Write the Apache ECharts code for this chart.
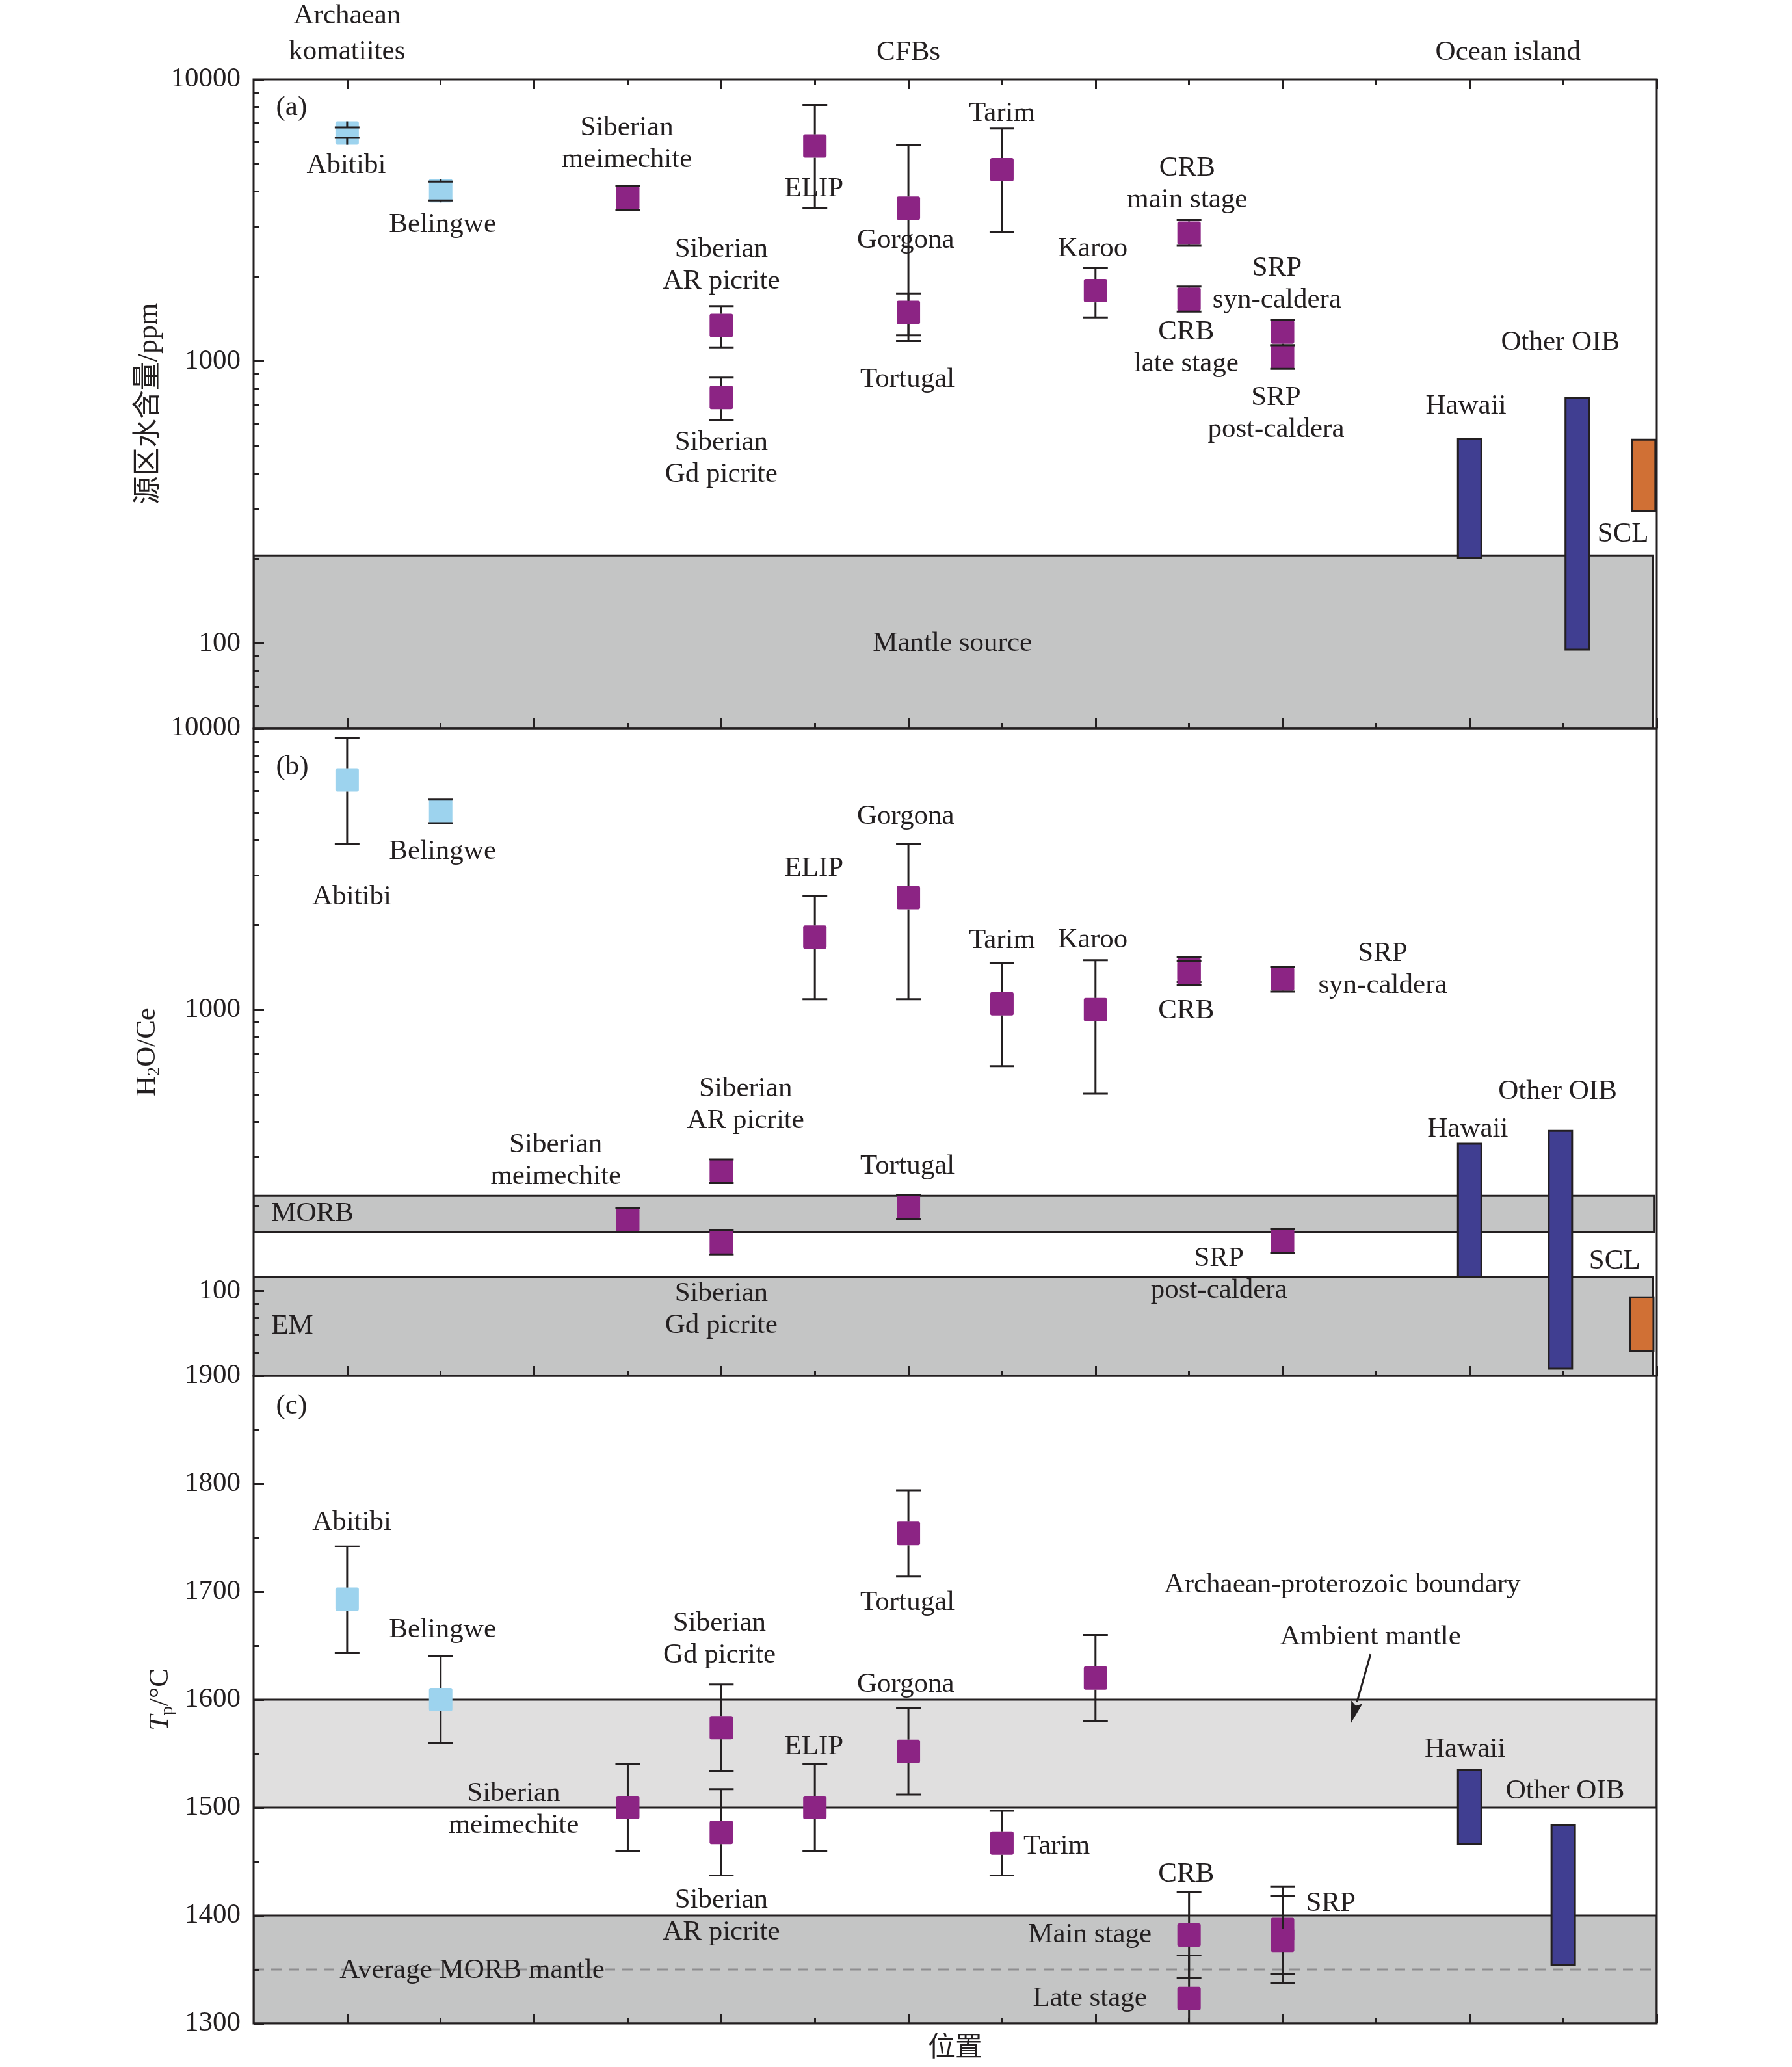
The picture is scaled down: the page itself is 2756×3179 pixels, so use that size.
<!DOCTYPE html>
<html>
<head>
<meta charset="utf-8">
<script src="https://cdn.jsdelivr.net/npm/echarts@6/dist/echarts.min.js"></script>
<style>
html,body{margin:0;padding:0;background:#ffffff;}
#chart{width:2756px;height:3179px;}
</style>
</head>
<body>
<div id="chart"></div>
<script>
// ================= DATA =================
// x positions (categories along the "位置" axis)
const xMajorTicks = [1, 3, 5, 7, 9, 11, 13, 15];
const xMinorTicks = [2, 4, 6, 8, 10, 12, 14];

// y tick values
const logMajorTicks = [100, 1000, 10000];
const logMinorTicks = [60, 70, 80, 90, 200, 300, 400, 500, 600, 700, 800, 900,
                       2000, 3000, 4000, 5000, 6000, 7000, 8000, 9000];
const tpMajorTicks = [1300, 1400, 1500, 1600, 1700, 1800, 1900];
const tpMinorTicks = [1350, 1450, 1550, 1650, 1750, 1850];

// ---- Panel (a): source water content (ppm) ----
const waterNames = ['Abitibi', 'Belingwe', 'Siberian meimechite', 'Siberian AR picrite', 'Siberian Gd picrite',
  'ELIP', 'Gorgona', 'Tortugal', 'Tarim', 'Karoo', 'CRB main stage', 'CRB late stage', 'SRP syn-caldera', 'SRP post-caldera'];
const waterX     = [1, 2, 4, 5, 5, 6, 7, 7, 8, 9, 10, 10, 11, 11];
const waterMean  = [6450, 4030, 3800, 1340, 745, 5800, 3490, 1490, 4780, 1780, 2850, 1660, 1270, 1035];
const waterLow   = [6200, 3720, 3450, 1120, 620, 3490, 1180, 1236, 2880, 1430, 2570, 1500, 1140, 940];
const waterHigh  = [6750, 4340, 4200, 1570, 875, 8110, 5840, 1741, 6690, 2140, 3170, 1840, 1400, 1140];
const waterGroup = ['A', 'A', 'C', 'C', 'C', 'C', 'C', 'C', 'C', 'C', 'C', 'C', 'C', 'C'];

const rangeNames     = ['Hawaii', 'Other OIB', 'SCL'];
const rangeGroup     = ['O', 'O', 'S'];
const waterRangeX    = [13, 14.15, 14.86];
const waterRangeLow  = [201, 95, 295];
const waterRangeHigh = [532, 741, 527];

// ---- Panel (b): H2O/Ce ----
const ratioNames = ['Abitibi', 'Belingwe', 'Siberian meimechite', 'Siberian AR picrite', 'Siberian Gd picrite',
  'ELIP', 'Gorgona', 'Tortugal', 'Tarim', 'Karoo', 'CRB', 'CRB', 'SRP syn-caldera', 'SRP post-caldera'];
const ratioX     = [1, 2, 4, 5, 5, 6, 7, 7, 8, 9, 10, 10, 11, 11];
const ratioMean  = [6550, 5070, 179, 267, 149, 1810, 2500, 199, 1050, 1000, 1390, 1346, 1285, 151];
const ratioLow   = [3890, 4600, 162, 242, 135, 1090, 1090, 180, 630, 503, 1253, 1220, 1160, 137];
const ratioHigh  = [9220, 5580, 197, 294, 165, 2530, 3880, 220, 1465, 1500, 1536, 1485, 1420, 166];
const ratioGroup = ['A', 'A', 'C', 'C', 'C', 'C', 'C', 'C', 'C', 'C', 'C', 'C', 'C', 'C'];

const ratioRangeX    = [13, 13.97, 14.84];
const ratioRangeLow  = [112, 53, 61];
const ratioRangeHigh = [334, 371, 95];

// ---- Panel (c): Tp (°C) ----
const tempNames = ['Abitibi', 'Belingwe', 'Siberian meimechite', 'Siberian Gd picrite', 'Siberian AR picrite',
  'ELIP', 'Tortugal', 'Gorgona', 'Tarim', 'Karoo', 'CRB main stage', 'CRB late stage', 'SRP', 'SRP'];
const tempX     = [1, 2, 4, 5, 5, 6, 7, 7, 8, 9, 10, 10, 11, 11];
const tempMean  = [1693, 1600, 1500, 1574, 1477, 1500, 1754, 1552, 1467, 1620, 1382, 1323, 1387, 1377];
const tempLow   = [1643, 1560, 1460, 1534, 1437, 1460, 1714, 1512, 1437, 1580, 1342, 1283, 1346, 1337];
const tempHigh  = [1742, 1640, 1540, 1614, 1517, 1540, 1794, 1592, 1497, 1660, 1422, 1363, 1427, 1418];
const tempGroup = ['A', 'A', 'C', 'C', 'C', 'C', 'C', 'C', 'C', 'C', 'C', 'C', 'C', 'C'];

const tempRangeNames = ['Hawaii', 'Other OIB'];
const tempRangeGroup = ['O', 'O'];
const tempRangeX    = [13, 14];
const tempRangeLow  = [1466, 1354];
const tempRangeHigh = [1535, 1484];

// ---- reference bands [xStart, xEnd, low, high] ----
const mantleSourceBand = [0, 14.96, 50, 205];
const morbRatioBand    = [0, 14.97, 162, 218];
const emRatioBand      = [0, 14.96, 50, 112];
const ambientMantleBand = [0, 15, 1500, 1600];
const morbMantleBand    = [0, 15, 1300, 1400];
const avgMorbMantleTp   = 1350;

// ---- annotations: [text, x, y, align] ----
const labelsA = [
  ['(a)', 0.24, 7917, 'left'], ['Abitibi', 0.99, 4938], ['Belingwe', 2.02, 3048],
  ['Siberian\nmeimechite', 3.99, 5916], ['Siberian\nAR picrite', 5.0, 2183], ['Siberian\nGd picrite', 5.0, 452],
  ['ELIP', 5.99, 4079], ['Gorgona', 6.97, 2683], ['Tortugal', 6.99, 862], ['Tarim', 8.0, 7550],
  ['Karoo', 8.97, 2503], ['CRB\nmain stage', 9.98, 4256], ['CRB\nlate stage', 9.97, 1118],
  ['SRP\nsyn-caldera', 10.94, 1875], ['SRP\npost-caldera', 10.93, 651], ['Hawaii', 12.96, 693],
  ['Other OIB', 13.97, 1167], ['SCL', 14.64, 244], ['Mantle source', 7.47, 100]
];
const labelsB = [
  ['(b)', 0.24, 7277, 'left'], ['Abitibi', 1.05, 2509], ['Belingwe', 2.02, 3640], ['ELIP', 5.99, 3179],
  ['Gorgona', 6.97, 4860], ['Tarim', 8.0, 1758], ['Karoo', 8.97, 1772], ['CRB', 9.97, 990],
  ['SRP\nsyn-caldera', 12.07, 1386], ['Siberian\nmeimechite', 3.23, 290], ['Siberian\nAR picrite', 5.26, 458],
  ['Tortugal', 6.99, 278], ['MORB', 0.19, 188.5, 'left'], ['Siberian\nGd picrite', 5.0, 85.8],
  ['SRP\npost-caldera', 10.32, 114.5], ['Other OIB', 13.94, 513], ['Hawaii', 12.98, 377],
  ['SCL', 14.55, 128], ['EM', 0.19, 75, 'left']
];
const labelsC = [
  ['(c)', 0.24, 1872, 'left'], ['Abitibi', 1.05, 1764], ['Belingwe', 2.02, 1664.5],
  ['Siberian\nGd picrite', 4.98, 1656], ['Tortugal', 6.99, 1690], ['Gorgona', 6.97, 1614], ['ELIP', 5.99, 1556],
  ['Siberian\nmeimechite', 2.78, 1498], ['Siberian\nAR picrite', 5.0, 1399], ['Tarim', 8.23, 1464, 'left'],
  ['CRB', 9.97, 1438], ['Main stage', 8.94, 1382], ['Late stage', 8.94, 1323], ['SRP', 11.25, 1411, 'left'],
  ['Hawaii', 12.95, 1554], ['Other OIB', 14.02, 1515],
  ['Archaean-proterozoic boundary', 11.64, 1706], ['Ambient mantle', 11.94, 1658],
  ['Average MORB mantle', 0.92, 1349, 'left']
];
const ambientArrow = [11.94, 1642, 11.73, 1578];
const topLabels = [['Archaean\nkomatiites', 1, 52, 55], ['CFBs', 7, 81, 49], ['Ocean island', 13.41, 81, 49]];

// ================= STYLE / LAYOUT =================
const FONT = "'Liberation Serif','Times New Roman','Noto Sans CJK SC',serif";
const INK = '#231f20';
const FS = 43;
const LH = 49;
const SYM = 36;
const COLORS = { A: '#9dd3ee', C: '#8c2484', O: '#403e91', S: '#d07035' };
const BAND_DARK = '#c4c5c5';
const BAND_LIGHT = '#e0dfdf';

const GRID_LEFT = 390, GRID_W = 2158;
const GRID_TOPS = [122, 1120, 2116];
const GRID_HS = [998, 996, 996];

// ================= RENDERERS =================
function renderPoint(params, api) {
  const x = api.value(0), m = api.value(1), lo = api.value(2), hi = api.value(3);
  const c = api.coord([x, m]), pLo = api.coord([x, lo]), pHi = api.coord([x, hi]);
  const h = SYM / 2, cap = SYM / 2 + 1;
  const ls = { stroke: INK, lineWidth: 3 };
  return {
    type: 'group',
    children: [
      { type: 'rect', shape: { x: c[0] - h, y: c[1] - h, width: SYM, height: SYM, r: 3 }, style: { fill: api.visual('color') } },
      { type: 'line', shape: { x1: c[0], y1: pHi[1], x2: c[0], y2: c[1] - h }, style: ls },
      { type: 'line', shape: { x1: c[0], y1: pLo[1], x2: c[0], y2: c[1] + h }, style: ls },
      { type: 'line', shape: { x1: c[0] - cap, y1: pHi[1], x2: c[0] + cap, y2: pHi[1] }, style: ls },
      { type: 'line', shape: { x1: c[0] - cap, y1: pLo[1], x2: c[0] + cap, y2: pLo[1] }, style: ls }
    ]
  };
}
function renderRange(params, api) {
  const x = api.value(0), lo = api.value(1), hi = api.value(2);
  const pLo = api.coord([x, lo]), pHi = api.coord([x, hi]);
  return {
    type: 'rect',
    shape: { x: pLo[0] - SYM / 2, y: pHi[1], width: SYM, height: pLo[1] - pHi[1] },
    style: { fill: api.visual('color'), stroke: INK, lineWidth: 3 }
  };
}
function bandRenderer(fill) {
  return function (params, api) {
    const p0 = api.coord([api.value(0), api.value(3)]);
    const p1 = api.coord([api.value(1), api.value(2)]);
    return {
      type: 'rect',
      shape: { x: p0[0], y: p0[1], width: p1[0] - p0[0], height: p1[1] - p0[1] },
      style: { fill: fill, stroke: INK, lineWidth: 3 }
    };
  };
}
function renderDash(params, api) {
  const p0 = api.coord([api.value(0), api.value(2)]);
  const p1 = api.coord([api.value(1), api.value(2)]);
  return {
    type: 'line',
    shape: { x1: p0[0], y1: p0[1], x2: p1[0], y2: p1[1] },
    style: { stroke: '#8e8e90', lineWidth: 3, lineDash: [16, 11] }
  };
}
function labelRenderer(list) {
  return function (params, api) {
    const item = list[params.dataIndex];
    const p = api.coord([api.value(0), api.value(1)]);
    const al = item[3] || 'center';
    return {
      type: 'text', x: p[0], y: p[1],
      style: {
        text: item[0], fill: INK, fontSize: FS, fontFamily: FONT, lineHeight: LH,
        align: al, verticalAlign: 'middle', textAlign: al, textVerticalAlign: 'middle'
      }
    };
  };
}
function renderArrow(params, api) {
  const a = api.coord([api.value(0), api.value(1)]);
  const b = api.coord([api.value(2), api.value(3)]);
  const dx = b[0] - a[0], dy = b[1] - a[1];
  const len = Math.sqrt(dx * dx + dy * dy);
  const ux = dx / len, uy = dy / len;
  const headL = 34, headW = 9;
  const bx = b[0] - ux * headL, by = b[1] - uy * headL;
  return {
    type: 'group',
    children: [
      { type: 'line', shape: { x1: a[0], y1: a[1], x2: bx, y2: by }, style: { stroke: INK, lineWidth: 3 } },
      { type: 'polygon', shape: { points: [[b[0], b[1]], [bx - uy * headW, by + ux * headW], [bx + ux * 6, by + uy * 6], [bx + uy * headW, by - ux * headW]] }, style: { fill: INK } }
    ]
  };
}

// ================= BUILD =================
function pointData(xs, means, lows, highs, groups, g) {
  const out = [];
  for (let i = 0; i < xs.length; i++) if (groups[i] === g) out.push([xs[i], means[i], lows[i], highs[i]]);
  return out;
}
function rangeData(xs, lows, highs, groups) {
  return xs.map((x, i) => ({ value: [x, lows[i], highs[i]], itemStyle: { color: COLORS[groups[i]] } }));
}

const grids = GRID_TOPS.map((t, i) => ({
  left: GRID_LEFT, top: t, width: GRID_W, height: GRID_HS[i],
  show: true, borderColor: INK, borderWidth: 3, backgroundColor: 'transparent', z: 10
}));

function xAxisPair(g, position, extra) {
  const base = { type: 'value', gridIndex: g, min: 0, max: 15, position: position,
    axisLine: { show: false }, axisLabel: { show: false }, splitLine: { show: false }, z: 10 };
  return [
    Object.assign({}, base, { axisTick: { show: true, inside: true, length: 15, customValues: xMajorTicks, lineStyle: { color: INK, width: 3 } } }, extra || {}),
    Object.assign({}, base, { axisTick: { show: true, inside: true, length: 8, customValues: xMinorTicks, lineStyle: { color: INK, width: 3 } } })
  ];
}
function yAxisPair(g, type, min, max, major, minor, name, nameStyle, gap) {
  const base = { type: type, gridIndex: g, min: min, max: max, position: 'left',
    axisLine: { show: false }, splitLine: { show: false }, z: 10 };
  if (type === 'log') base.logBase = 10;
  return [
    Object.assign({}, base, {
      axisTick: { show: true, inside: true, length: 16, customValues: major, lineStyle: { color: INK, width: 3 } },
      axisLabel: { show: true, customValues: major, formatter: v => String(Math.round(v)), color: INK, fontSize: FS, fontFamily: FONT, margin: 20 },
      name: name, nameLocation: 'middle', nameGap: gap, nameRotate: 90, nameTextStyle: nameStyle
    }),
    Object.assign({}, base, {
      axisTick: { show: true, inside: true, length: 9, customValues: minor, lineStyle: { color: INK, width: 3 } },
      axisLabel: { show: false }
    })
  ];
}

const xAxes = [].concat(
  xAxisPair(0, 'bottom'), xAxisPair(0, 'top'),
  xAxisPair(1, 'bottom'),
  xAxisPair(2, 'bottom', { name: '位置', nameLocation: 'middle', nameGap: 18,
    nameTextStyle: { color: INK, fontSize: 42, fontFamily: FONT } })
);
const XI = [0, 4, 6];

const yAxes = [].concat(
  yAxisPair(0, 'log', 50, 10000, logMajorTicks, logMinorTicks, '源区水含量/ppm',
    { color: INK, fontSize: 44, fontFamily: FONT }, 121),
  yAxisPair(1, 'log', 50, 10000, logMajorTicks, logMinorTicks, '{t|H}{s|2}{t|O/Ce}',
    { color: INK, fontFamily: FONT, rich: {
      t: { fontSize: FS, fontFamily: FONT, color: INK, lineHeight: 50 },
      s: { fontSize: 28, fontFamily: FONT, color: INK, lineHeight: 24, verticalAlign: 'bottom' } } }, 118),
  yAxisPair(2, 'value', 1300, 1900, tpMajorTicks, tpMinorTicks, '{i|T}{s|p}{t|/°C}',
    { color: INK, fontFamily: FONT, rich: {
      i: { fontSize: FS, fontFamily: FONT, color: INK, fontStyle: 'italic', lineHeight: 50 },
      s: { fontSize: 28, fontFamily: FONT, color: INK, lineHeight: 24, verticalAlign: 'bottom' },
      t: { fontSize: FS, fontFamily: FONT, color: INK, lineHeight: 50 } } }, 118)
);
const YI = [0, 2, 4];

function bandSeries(g, band, fill) {
  return { type: 'custom', xAxisIndex: XI[g], yAxisIndex: YI[g], z: 1, silent: true, clip: true,
    renderItem: bandRenderer(fill), data: [band] };
}
function pointSeries(g, data, color, name) {
  return { type: 'custom', name: name, xAxisIndex: XI[g], yAxisIndex: YI[g], z: 3, clip: true,
    itemStyle: { color: color }, renderItem: renderPoint, data: data };
}
function rangeSeries(g, data) {
  return { type: 'custom', xAxisIndex: XI[g], yAxisIndex: YI[g], z: 3, clip: true,
    renderItem: renderRange, data: data };
}
function labelSeries(g, list) {
  return { type: 'custom', xAxisIndex: XI[g], yAxisIndex: YI[g], z: 4, silent: true, clip: false,
    renderItem: labelRenderer(list), data: list.map(l => [l[1], l[2]]) };
}

const series = [
  // panel a
  bandSeries(0, mantleSourceBand, BAND_DARK),
  rangeSeries(0, rangeData(waterRangeX, waterRangeLow, waterRangeHigh, rangeGroup)),
  pointSeries(0, pointData(waterX, waterMean, waterLow, waterHigh, waterGroup, 'A'), COLORS.A, 'Archaean komatiites'),
  pointSeries(0, pointData(waterX, waterMean, waterLow, waterHigh, waterGroup, 'C'), COLORS.C, 'CFBs'),
  labelSeries(0, labelsA),
  // panel b
  bandSeries(1, morbRatioBand, BAND_DARK),
  bandSeries(1, emRatioBand, BAND_DARK),
  rangeSeries(1, rangeData(ratioRangeX, ratioRangeLow, ratioRangeHigh, rangeGroup)),
  pointSeries(1, pointData(ratioX, ratioMean, ratioLow, ratioHigh, ratioGroup, 'A'), COLORS.A, 'Archaean komatiites'),
  pointSeries(1, pointData(ratioX, ratioMean, ratioLow, ratioHigh, ratioGroup, 'C'), COLORS.C, 'CFBs'),
  labelSeries(1, labelsB),
  // panel c
  bandSeries(2, ambientMantleBand, BAND_LIGHT),
  bandSeries(2, morbMantleBand, BAND_DARK),
  { type: 'custom', xAxisIndex: XI[2], yAxisIndex: YI[2], z: 1, silent: true, clip: true,
    renderItem: renderDash, data: [[0, 15, avgMorbMantleTp]] },
  rangeSeries(2, rangeData(tempRangeX, tempRangeLow, tempRangeHigh, tempRangeGroup)),
  pointSeries(2, pointData(tempX, tempMean, tempLow, tempHigh, tempGroup, 'A'), COLORS.A, 'Archaean komatiites'),
  pointSeries(2, pointData(tempX, tempMean, tempLow, tempHigh, tempGroup, 'C'), COLORS.C, 'CFBs'),
  labelSeries(2, labelsC),
  { type: 'custom', xAxisIndex: XI[2], yAxisIndex: YI[2], z: 4, silent: true, clip: false,
    renderItem: renderArrow, data: [ambientArrow] }
];

const chart = echarts.init(document.getElementById('chart'), null, { renderer: 'canvas' });
chart.setOption({
  backgroundColor: '#ffffff',
  animation: false,
  tooltip: { show: false },
  grid: grids,
  xAxis: xAxes,
  yAxis: yAxes,
  series: series
});

// group headings above panel (a), x taken from the axis scale
const graphics = topLabels.map(t => {
  const px = chart.convertToPixel({ xAxisIndex: 0, yAxisIndex: 0 }, [t[1], 1000])[0];
  return {
    type: 'text', x: px, y: t[2],
    style: { text: t[0], fill: INK, fontSize: FS, fontFamily: FONT, lineHeight: t[3],
      align: 'center', verticalAlign: 'middle', textAlign: 'center', textVerticalAlign: 'middle' }
  };
});
chart.setOption({ graphic: graphics });
</script>
</body>
</html>
